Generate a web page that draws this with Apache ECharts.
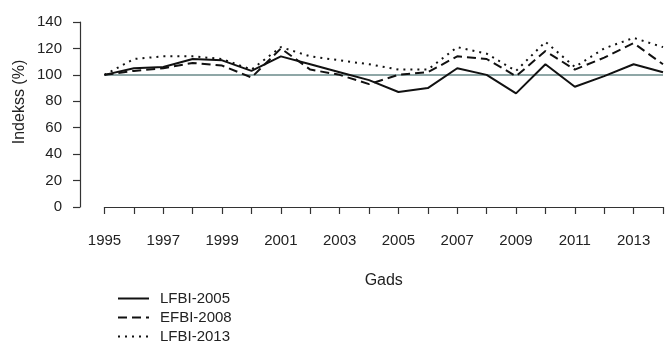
<!DOCTYPE html>
<html>
<head>
<meta charset="utf-8">
<script src="https://cdn.jsdelivr.net/npm/echarts@6/dist/echarts.min.js"></script>
<style>
  html, body { margin: 0; padding: 0; background: #ffffff; }
  #chart { width: 666px; height: 345px; }
</style>
</head>
<body>
<div id="chart"></div>
<script>
// Forest bird index by year, three index versions (base 1995 = 100)
const years = [1995, 1996, 1997, 1998, 1999, 2000, 2001, 2002, 2003, 2004,
               2005, 2006, 2007, 2008, 2009, 2010, 2011, 2012, 2013, 2014];
const lfbi2005 = [100, 105, 106, 112, 111, 103, 114, 108, 102, 96,
                  87, 90, 105, 100, 86, 108, 91, 99, 108, 102];
const efbi2008 = [100, 103, 105, 109, 107, 98, 120, 104, 100, 93,
                  100, 102, 114, 112, 99, 118, 104, 113, 124, 108];
const lfbi2013 = [100, 112, 114, 114, 112, 104, 121, 114, 111, 108,
                  104, 104, 121, 116, 103, 125, 106, 120, 128, 121];
const seriesNames = ['LFBI-2005', 'EFBI-2008', 'LFBI-2013'];
const baseLevel = 100;
const yMin = 0, yMax = 140, yStep = 20;

const font = "'Liberation Sans', Arial, sans-serif";
const ink = '#222';

function pairs(values) {
  return years.map((y, i) => [y, values[i]]);
}

const chart = echarts.init(document.getElementById('chart'), null, { renderer: 'canvas' });

chart.setOption({
  animation: false,
  backgroundColor: '#ffffff',
  grid: { left: 104.5, right: 0.5, top: 22, bottom: 138, containLabel: false },
  xAxis: {
    type: 'value',
    min: years[0],
    max: years[years.length - 1],
    interval: 1,
    offset: 8,
    name: 'Gads',
    nameLocation: 'middle',
    nameGap: 58,
    nameTextStyle: { color: ink, fontSize: 16, fontFamily: font },
    axisLine: { show: true, lineStyle: { color: '#333', width: 1.2 } },
    axisTick: { show: true, length: 7, lineStyle: { color: '#333', width: 1.2 } },
    axisLabel: {
      color: ink, fontSize: 15, fontFamily: font, margin: 18,
      formatter: v => (v % 2 === 1 ? String(v) : '')
    },
    splitLine: { show: false }
  },
  yAxis: {
    type: 'value',
    min: yMin,
    max: yMax,
    interval: yStep,
    offset: 24.5,
    axisLine: { show: true, lineStyle: { color: '#333', width: 1.2 } },
    axisTick: { show: true, length: 7, lineStyle: { color: '#333', width: 1.2 } },
    axisLabel: { color: ink, fontSize: 15, fontFamily: font, margin: 18 },
    splitLine: { show: false }
  },
  graphic: [{
    type: 'text',
    x: 20,
    y: 102,
    rotation: Math.PI / 2,
    style: {
      text: 'Indekss (%)',
      fill: ink,
      fontSize: 16,
      fontFamily: font,
      textAlign: 'center',
      textVerticalAlign: 'middle'
    }
  }],
  legend: {
    orient: 'vertical',
    left: 117,
    top: 291,
    itemWidth: 31,
    itemHeight: 14,
    itemGap: 4,
    padding: 0,
    data: seriesNames,
    itemStyle: { opacity: 0 },
    textStyle: { color: ink, fontSize: 15, fontFamily: font, padding: [0, 0, 0, 6] }
  },
  series: [
    {
      name: seriesNames[0],
      type: 'line',
      data: pairs(lfbi2005),
      symbol: 'none',
      lineStyle: { color: '#111', width: 2, type: 'solid' },
      itemStyle: { color: '#111' },
      z: 4,
      markLine: {
        silent: true,
        symbol: 'none',
        label: { show: false },
        lineStyle: { color: '#6a8a8a', width: 1.6, type: 'solid' },
        data: [{ yAxis: baseLevel }],
        z: 1
      }
    },
    {
      name: seriesNames[1],
      type: 'line',
      data: pairs(efbi2008),
      symbol: 'none',
      lineStyle: { color: '#111', width: 2, type: [9, 5] },
      itemStyle: { color: '#111' },
      z: 3
    },
    {
      name: seriesNames[2],
      type: 'line',
      data: pairs(lfbi2013),
      symbol: 'none',
      lineStyle: { color: '#111', width: 2, type: [2, 5] },
      itemStyle: { color: '#111' },
      z: 2
    }
  ]
});
</script>
</body>
</html>
